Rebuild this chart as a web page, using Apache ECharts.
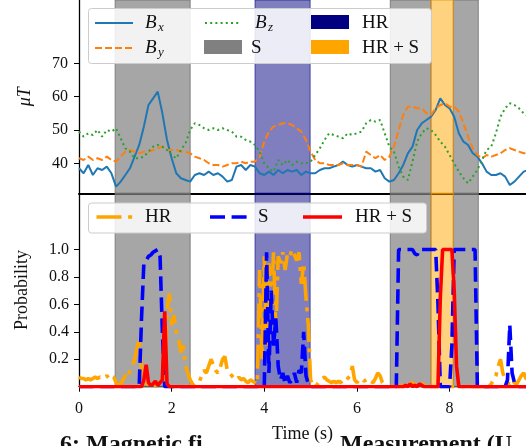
<!DOCTYPE html>
<html><head><meta charset="utf-8">
<script src="https://cdn.jsdelivr.net/npm/echarts@6/dist/echarts.min.js"></script>
<style>html,body{margin:0;padding:0;background:#fff}#c{width:526px;height:446px}</style>
</head><body><div id="c"></div>
<script>
// ---- data ----
const tStepTop = 0.1;   // s, sample spacing of the field traces
const bx = [
 38.5,37,39.5,36.5,38.5,38,39,37,33,34.5,
 36.5,38.5,42,45.5,51,57.5,59.5,61.5,55,47,
 41.5,37,35.5,35,34.5,36.5,37,36.5,37.5,36.5,
 37,36,34.5,35,39,39.5,38,39.5,39,37,
 36.5,37.5,36.5,38,37,38,37.5,38,36.5,37.5,
 37,37,38,38.5,38.5,39,39.5,40.5,39.5,39,
 39.5,39,38.5,38.5,37.5,38,35.5,34.5,35,37,
 39.5,43,45,50,52,53,54,56,59.5,57.5,
 56.5,54,49,46.5,45.5,43,42,40,37.5,36.5,
 36.5,37,36,33.5,34.5,36,37.5,38];
const by = [
 41.5,41,42,41,41.5,41,42,41,40.5,42,
 43.5,44,43.5,43,43.5,43.5,44,44.5,45,44,
 44,44,43.5,43.5,43,42,41.5,41,40,39.5,
 39.5,39,39.5,40,40,40.5,40,40.5,40.5,42,
 46.5,49.5,51,51.5,52,52,51.5,50.5,49.5,47,
 43.5,41,40,40,39.5,39.5,39.5,40,39.5,39.5,
 39.5,39,43.5,42.5,41.5,42.5,41,42,45,50,
 54.5,57,57,56.5,56.5,55,54.5,56.5,57.5,58,
 57,57,55.5,52,48,44.5,42.5,41.5,42.5,42,
 42.5,43,44,44.5,44,43.5,43,43];
const bz = [
 49.5,48,49,48.5,50,48,50,49.5,50.5,47.5,
 44.5,43.5,41.5,41.5,42,43.5,45,45.5,45,44,
 42.5,41.5,44,46,50,52,51.5,50.5,50,50.5,
 50,50.5,50,49.5,48,48,47,46.5,45.5,43.5,
 40,38.5,37.5,41,39.5,41,39.5,40.5,40,40,
 40.5,42.5,44.5,47,49,48.5,48,47.5,49,48.5,
 49,49.5,52,53,52.5,53,49,45,43.5,39,
 36,35,40.5,46.5,49,50.5,50,48.5,46.5,45,
 42.5,40,37.5,35.5,34,36,38,41,44,45,
 49,54,56.5,58,57.5,56.5,55,54];

const tStepBot = 0.05;  // s, sample spacing of the probabilities
const probHR = [
 0.07,0.06,0.06,0.05,0.06,0.05,0.06,0.07,0.06,0.07,
 0.06,0.07,0.08,0.06,0.08,0.07,0.03,0.01,0.02,0.05,
 0.08,0.06,0.12,0.15,0.2,0.28,0.35,0.12,0.04,0.02,
 0.02,0.01,0.02,0.01,0.02,0.03,0.05,0.1,0.55,0.68,
 0.45,0.52,0.4,0.35,0.25,0.3,0.15,0.1,0.05,0.02,
 0.0,0.01,0.04,0.08,0.12,0.1,0.15,0.2,0.16,0.12,
 0.1,0.14,0.2,0.22,0.12,0.1,0.08,0.06,0.05,0.07,
 0.05,0.06,0.04,0.03,0.05,0.04,0.03,0.02,0.85,0.2,
 0.95,0.3,0.9,0.6,0.98,0.4,0.95,0.9,0.98,0.85,
 0.97,0.95,1.0,0.96,0.92,0.98,0.75,0.9,0.65,0.45,
 0.05,0.01,0.0,0.02,0.04,0.06,0.07,0.05,0.04,0.03,
 0.04,0.03,0.04,0.03,0.05,0.04,0.06,0.08,0.15,0.05,
 0.03,0.05,0.06,0.04,0.05,0.06,0.04,0.03,0.06,0.1,
 0.08,0.03,0.01,0.0,0.0,0.0,0.0,0.0,0.0,0.01,
 0.0,0.01,0.0,0.02,0.03,0.01,0.0,0.02,0.03,0.01,
 0.0,0.01,0.0,0.0,0.0,0.0,0.0,0.0,0.0,0.0,
 0,0,0,0,0,0,0,0,0,0,
 0,0,0,0,0,0,0,0,0.02,0.05,
 0.08,0.15,0.2,0.1,0.05,0.03,0.02,0.05,0.03,0.02,
 0.05,0.08,0.1,0.06,0.05];
const probS = [
 0,0,0,0,0,0,0,0,0,0,
 0,0,0,0,0,0,0,0,0,0,
 0,0,0,0,0,0,0,0.5,0.9,0.92,
 0.95,0.96,0.98,0.99,1.0,0.95,0.4,0,0,0,
 0,0,0,0,0,0,0,0,0,0,
 0,0,0,0,0,0,0,0,0,0,
 0,0,0,0,0,0,0,0,0,0,
 0,0,0,0,0,0,0,0,0,0,
 0.0,0.98,0.1,0.7,0.3,0.5,0.15,0.05,0.1,0.02,
 0.08,0.03,0.05,0.1,0.03,0.12,0.1,0.4,0.08,0.02,
 0,0,0,0,0,0,0,0,0,0,
 0,0,0,0,0,0,0,0,0,0,
 0,0,0,0,0,0,0,0,0,0,
 0,0,0,0,0,0,0,0,1.0,1.0,
 1.0,1.0,1.0,1.0,1.0,0.97,0.96,1.0,1.0,1.0,
 1.0,1.0,1.0,1.0,1.0,0.6,0,0,0,0,
 0,0.3,1.0,1.0,1.0,1.0,1.0,1.0,1.0,1.0,
 1.0,1.0,0,0,0,0,0,0,0,0,
 0,0,0,0,0,0.05,0.45,0.1,0.03,0.02,
 0,0,0,0,0];
const probHRS = [
 0,0,0,0,0,0,0,0,0,0,
 0,0,0,0,0,0,0,0,0,0,
 0,0,0,0,0,0,0,0,0.05,0.16,
 0.03,0.01,0.02,0.04,0.01,0.03,0.05,0.55,0.02,0,
 0,0,0,0,0,0,0,0,0,0,
 0,0,0,0,0,0,0,0,0,0,
 0,0,0,0,0,0,0,0,0,0,
 0,0,0,0,0,0,0,0,0,0,
 0,0,0,0,0,0,0,0,0,0,
 0,0,0,0,0,0,0,0,0,0,
 0,0,0,0,0,0,0,0,0,0,
 0,0,0,0,0,0,0,0,0,0,
 0,0,0,0,0,0,0,0,0,0,
 0,0,0,0,0,0,0,0,0,0,
 0,0.01,0,0.02,0,0.01,0,0.02,0.01,0,
 0,0,0,0,0,0,0.65,1.0,1.0,1.0,
 1.0,1.0,0.7,0.15,0,0,0,0,0,0,
 0,0,0,0,0,0,0,0,0,0,
 0,0,0,0,0,0,0,0,0,0,
 0,0,0,0,0];

// shaded intervals (s)
const spansS = [[0.78, 2.40], [6.72, 7.60], [8.08, 8.62]];
const spansHR = [[3.80, 4.99]];
const spansHRS = [[7.60, 8.08]];

const xTicks = [0, 2, 4, 6, 8];
const yTicksTop = [40, 50, 60, 70];
const yTicksBot = [0.2, 0.4, 0.6, 0.8, 1.0];

// caption fragments visible under the figure
const captionParts = ['6: Magnetic fi', 'Measurement (U'];

// ---- chart ----
const FONT = 'Liberation Serif';
const TXT = '#111';
const pairs = (arr, step) => arr.map((v, i) => [+(i * step).toFixed(3), v]);

function spanAreas() {
  const a = [];
  const add = (list, fill, edge) => list.forEach(([s, e]) => a.push([
    {xAxis: s, itemStyle: {color: fill, borderColor: edge, borderWidth: 1}}, {xAxis: e}]));
  add(spansS, 'rgba(128,128,128,0.7)', 'rgba(110,110,110,0.8)');
  add(spansHR, 'rgba(0,0,128,0.5)', 'rgba(0,0,128,0.6)');
  add(spansHRS, 'rgba(255,165,0,0.5)', 'rgba(230,140,0,0.7)');
  return a;
}

const xMax = 9.65;
const chart = echarts.init(document.getElementById('c'), null, {renderer: 'canvas'});

const axisLab = {fontFamily: FONT, fontSize: 16, color: TXT};
const option = {
  animation: false,
  backgroundColor: '#fff',
  grid: [
    {left: 79, right: 0, top: 0, height: 193.3},
    {left: 79, right: 0, top: 193.3, height: 193.4}
  ],
  xAxis: [
    {gridIndex: 0, type: 'value', min: 0, max: xMax, interval: 2,
     axisLine: {show: true, onZero: false, lineStyle: {color: '#000', width: 2}},
     axisTick: {show: false}, axisLabel: {show: false}, splitLine: {show: false}},
    {gridIndex: 1, type: 'value', min: 0, max: xMax, interval: 2,
     axisLine: {show: true, onZero: false, lineStyle: {color: '#000', width: 1.3}},
     axisTick: {show: true, length: 5, lineStyle: {color: '#000', width: 1}},
     axisLabel: Object.assign({margin: 14, customValues: xTicks, formatter: v => String(v)}, axisLab),
     splitLine: {show: false},
     name: 'Time (s)', nameLocation: 'middle', nameGap: 39,
     nameTextStyle: {fontFamily: FONT, fontSize: 18, color: TXT}}
  ],
  yAxis: [
    {gridIndex: 0, type: 'value', min: 31, max: 89,
     axisLine: {show: true, onZero: false, lineStyle: {color: '#000', width: 1.3}},
     axisTick: {show: true, length: 5, customValues: yTicksTop, lineStyle: {color: '#000', width: 1}},
     axisLabel: Object.assign({margin: 11, customValues: yTicksTop}, axisLab),
     splitLine: {show: false},
     name: 'μT', nameLocation: 'middle', nameGap: 45,
     nameTextStyle: {fontFamily: FONT, fontSize: 18, fontStyle: 'italic', color: TXT}},
    {gridIndex: 1, type: 'value', min: 0, max: 1.41,
     axisLine: {show: true, onZero: false, lineStyle: {color: '#000', width: 1.3}},
     axisTick: {show: true, length: 5, customValues: yTicksBot, lineStyle: {color: '#000', width: 1}},
     axisLabel: Object.assign({margin: 10, customValues: yTicksBot, formatter: v => v.toFixed(1)}, axisLab),
     splitLine: {show: false},
     name: 'Probability', nameLocation: 'middle', nameGap: 48,
     nameTextStyle: {fontFamily: FONT, fontSize: 18, color: TXT}}
  ],
  series: [
    {type: 'line', xAxisIndex: 0, yAxisIndex: 0, data: pairs(bx, tStepTop), symbol: 'none',
     lineStyle: {opacity: 0}, silent: true, z: 1, markArea: {silent: true, data: spanAreas()}},
    {type: 'line', xAxisIndex: 1, yAxisIndex: 1, data: pairs(probS, tStepBot), symbol: 'none',
     lineStyle: {opacity: 0}, silent: true, z: 1, markArea: {silent: true, data: spanAreas()}},
    {name: 'Bx', type: 'line', xAxisIndex: 0, yAxisIndex: 0, data: pairs(bx, tStepTop), symbol: 'none', z: 4,
     lineStyle: {color: '#1f77b4', width: 2}},
    {name: 'By', type: 'line', xAxisIndex: 0, yAxisIndex: 0, data: pairs(by, tStepTop), symbol: 'none', z: 4,
     lineStyle: {color: '#ff7f0e', width: 2, type: [7, 3]}},
    {name: 'Bz', type: 'line', xAxisIndex: 0, yAxisIndex: 0, data: pairs(bz, tStepTop), symbol: 'none', z: 4,
     lineStyle: {color: '#2ca02c', width: 2, type: [2, 3.2]}},
    {name: 'HR', type: 'line', xAxisIndex: 1, yAxisIndex: 1, data: pairs(probHR, tStepBot), symbol: 'none', z: 4,
     lineStyle: {color: '#ffa500', width: 3.6, type: [24, 6.5, 4, 6.5]}},
    {name: 'S', type: 'line', xAxisIndex: 1, yAxisIndex: 1, data: pairs(probS, tStepBot), symbol: 'none', z: 5,
     lineStyle: {color: '#0000ff', width: 3.6, type: [14.5, 6.5]}},
    {name: 'HR + S', type: 'line', xAxisIndex: 1, yAxisIndex: 1, data: pairs(probHRS, tStepBot), symbol: 'none', z: 6,
     lineStyle: {color: '#ff0000', width: 3.6}}
  ],
  graphic: (function () {
    const g = [];
    const t = (x, y, s, size, italic) => g.push({type: 'text', z: 110, x: x, y: y,
      style: {text: s, fontFamily: FONT, fontSize: size, fontStyle: italic ? 'italic' : 'normal',
              fill: TXT, verticalAlign: 'middle', align: 'left'}});
    const ln = (x1, x2, y, color, w, dash) => g.push({type: 'line', z: 110,
      shape: {x1: x1, y1: y, x2: x2, y2: y},
      style: {stroke: color, lineWidth: w, lineDash: dash || null, lineCap: 'butt'}});
    const box = (x, y, w, h, fill) => g.push({type: 'rect', z: 110, shape: {x: x, y: y, width: w, height: h},
      style: {fill: fill}});
    // legend 1
    g.push({type: 'rect', z: 105, shape: {x: 88.5, y: 8.5, width: 343, height: 55, r: 3},
      style: {fill: 'rgba(255,255,255,0.85)', stroke: '#cccccc', lineWidth: 1}});
    ln(95, 133, 23, '#1f77b4', 2);
    t(145, 23, 'B', 19, true); t(158, 28, 'x', 13, true);
    ln(95, 133, 48, '#ff7f0e', 2, [7, 3]);
    t(145, 48, 'B', 19, true); t(158, 53, 'y', 13, true);
    ln(205, 239, 23, '#2ca02c', 2, [2, 3.2]);
    t(255, 23, 'B', 19, true); t(268, 28, 'z', 13, true);
    box(204, 40, 38, 14, '#808080'); t(251, 48, 'S', 19);
    box(311, 15, 38, 14, '#000080'); t(362, 23, 'HR', 19);
    box(311, 40, 38, 14, '#ffa500'); t(362, 48, 'HR + S', 19);
    // legend 2
    g.push({type: 'rect', z: 105, shape: {x: 88.5, y: 203, width: 338, height: 30, r: 3},
      style: {fill: 'rgba(255,255,255,0.85)', stroke: '#cccccc', lineWidth: 1}});
    ln(96.5, 132.5, 217, '#ffa500', 3.6, [25, 6.6, 4, 10]); t(145, 217, 'HR', 19);
    ln(210, 247, 217, '#0000ff', 3.6, [15, 6.6]); t(258, 217, 'S', 19);
    ln(303, 342, 217, '#ff0000', 3.6); t(355, 217, 'HR + S', 19);
    // caption fragments (cut by the bottom edge)
    g.push({type: 'text', z: 50, x: 60, y: 433, style: {text: captionParts[0], fontFamily: FONT,
      fontSize: 24, fontWeight: 'bold', fill: TXT, verticalAlign: 'top'}});
    g.push({type: 'text', z: 50, x: 340, y: 433, style: {text: captionParts[1], fontFamily: FONT,
      fontSize: 24, fontWeight: 'bold', fill: TXT, verticalAlign: 'top'}});
    return g;
  })()
};
chart.setOption(option);
</script>
</body></html>
